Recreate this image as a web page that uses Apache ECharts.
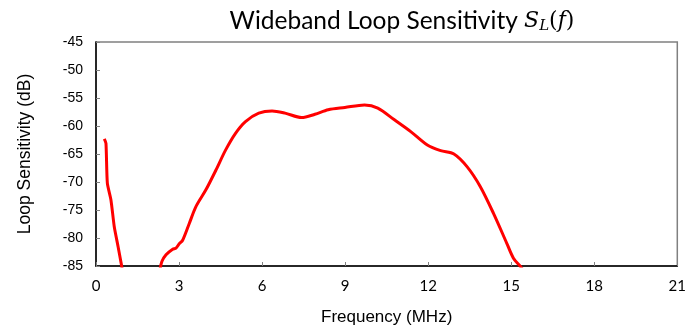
<!DOCTYPE html>
<html>
<head>
<meta charset="utf-8">
<script src="https://cdn.jsdelivr.net/npm/echarts@6/dist/echarts.min.js"></script>
<style>
  html, body { margin: 0; padding: 0; background: #fff; }
  #chart { width: 689px; height: 334px; }
</style>
</head>
<body>
<div id="chart"></div>
<script>
// 低频段 (MHz, dB)
const lowFreq = [0.30, 0.36, 0.41, 0.54, 0.66, 0.80, 0.92, 0.96];
const lowSens = [-62.3, -63.1, -70.2, -73.2, -78.0, -81.6, -84.8, -86];
// 主频段
const bandFreq = [2.30, 2.38, 2.53, 2.77, 2.89, 3.01, 3.13, 3.37, 3.61, 3.97, 4.33, 4.68, 5.04, 5.40, 5.88, 6.36, 6.83, 7.43, 7.91, 8.39, 8.99, 9.70, 10.18, 10.78, 11.37, 11.97, 12.45, 12.93, 13.41, 13.88, 14.36, 14.84, 15.08, 15.32, 15.40];
const bandSens = [-86, -84.2, -83.0, -82.0, -81.8, -81.0, -80.4, -77.4, -74.4, -71.4, -67.9, -64.3, -61.3, -59.2, -57.7, -57.3, -57.7, -58.5, -57.9, -57.1, -56.7, -56.25, -56.8, -58.9, -61.0, -63.4, -64.4, -65.0, -67.3, -70.8, -75.6, -80.95, -83.6, -85.0, -85.5];
const xTicks = [0, 3, 6, 9, 12, 15, 18, 21];
const yTicks = [-85, -80, -75, -70, -65, -60, -55, -50, -45];

const toPairs = (xs, ys) => xs.map((x, i) => [x, ys[i]]);

const myChart = echarts.init(document.getElementById('chart'));

const lineStyle = { color: '#ff0000', width: 3 };
const mathFont = { fontFamily: 'DejaVu Serif', fontWeight: 'normal', color: '#000' };

const option = {
    animation: false,
    title: {
        text: '{a|Wideband Loop Sensitivity }{s|S}{l|L}{p|(}{f|f}{p|)}',
        left: 397,
        top: 3,
        textAlign: 'center',
        textStyle: {
            fontWeight: 'normal',
            rich: {
                a: { fontFamily: 'Lato', fontWeight: 'normal', fontSize: 24.5, color: '#000' },
                s: { ...mathFont, fontStyle: 'italic', fontSize: 22 },
                l: { ...mathFont, fontStyle: 'italic', fontSize: 15, verticalAlign: 'bottom', padding: [11, 0, 0, 0] },
                p: { ...mathFont, fontSize: 22 },
                f: { ...mathFont, fontStyle: 'italic', fontSize: 22 }
            }
        }
    },
    grid: {
        left: 96,
        right: 7,
        top: 42,
        bottom: 68,
        show: true,
        borderColor: '#808080',
        borderWidth: 1.5
    },
    xAxis: {
        type: 'value',
        min: 0,
        max: 21,
        interval: 3,
        name: 'Frequency (MHz)',
        nameLocation: 'middle',
        nameGap: 43,
        nameTextStyle: { fontFamily: 'Liberation Sans', fontSize: 17, color: '#000' },
        axisLine: { lineStyle: { color: '#000', width: 1.5 } },
        axisTick: { inside: true, length: 4, lineStyle: { color: '#808080' } },
        axisLabel: {
            fontFamily: 'Lato', fontSize: 15, color: '#000', margin: 13,
            formatter: v => xTicks.includes(v) ? String(v) : ''
        },
        splitLine: { show: false }
    },
    yAxis: {
        type: 'value',
        min: -85,
        max: -45,
        interval: 5,
        name: 'Loop Sensitivity (dB)',
        nameLocation: 'middle',
        nameGap: 62,
        nameTextStyle: { fontFamily: 'Liberation Sans', fontSize: 17.5, color: '#000' },
        axisLine: { show: true, lineStyle: { color: '#000', width: 1.5 } },
        axisTick: { show: true, inside: true, length: 4, lineStyle: { color: '#808080' } },
        axisLabel: {
            fontFamily: 'Liberation Sans', fontSize: 14, color: '#000', margin: 13,
            formatter: v => yTicks.includes(v) ? String(v) : ''
        },
        splitLine: { show: false }
    },
    series: [
        {
            type: 'line',
            data: toPairs(lowFreq, lowSens),
            showSymbol: false,
            smooth: 0.2,
            clip: true,
            lineStyle: lineStyle
        },
        {
            type: 'line',
            data: toPairs(bandFreq, bandSens),
            showSymbol: false,
            smooth: 0.3,
            clip: true,
            lineStyle: lineStyle
        }
    ]
};

option && myChart.setOption(option);
</script>
</body>
</html>
